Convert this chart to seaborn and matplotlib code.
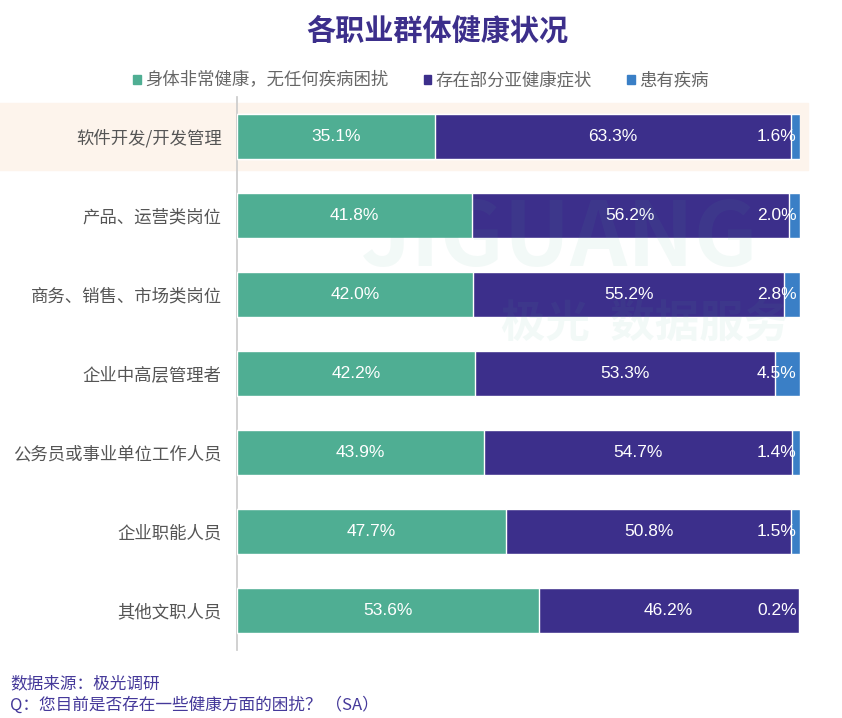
import matplotlib
matplotlib.use("Agg")
import matplotlib.pyplot as plt
import seaborn as sns
import pandas as pd
import numpy as np

# data
groups = ["软件开发/开发管理", "产品、运营类岗位", "商务、销售、市场类岗位", "企业中高层管理者",
          "公务员或事业单位工作人员", "企业职能人员", "其他文职人员"]
healthy = [35.1, 41.8, 42.0, 42.2, 43.9, 47.7, 53.6]
sub_health = [63.3, 56.2, 55.2, 53.3, 54.7, 50.8, 46.2]
ill = [1.6, 2.0, 2.8, 4.5, 1.4, 1.5, 0.2]
series_names = ["身体非常健康，无任何疾病困扰", "存在部分亚健康症状", "患有疾病"]

green = "#4fae93"
purple = "#3c2f8b"
blue = "#3a7fc6"

sns.set_theme(style="white")
plt.rcParams['font.family'] = ['Noto Sans CJK SC', 'DejaVu Sans']

df = pd.DataFrame({"group": groups, "healthy": healthy, "sub": sub_health, "ill": ill})
df["c1"] = df["healthy"]
df["c2"] = df["healthy"] + df["sub"]
df["c3"] = df["c2"] + df["ill"]

fig = plt.figure(figsize=(8.42, 7.18), dpi=100)
ax = fig.add_axes([0.2815, 0.0947, 0.6685, 0.7703])

# watermark
fig.text(0.665, 0.666, "JIGUANG", fontsize=64, fontweight="bold", color="#4fae93", alpha=0.07,
         ha="center", va="center", zorder=0)
fig.text(0.766, 0.549, "极光  数据服务", fontsize=32, fontweight="bold", color="#4fae93", alpha=0.07,
         ha="center", va="center", zorder=0)

# highlight band behind first row
ax.axhspan(-0.42, 0.42, xmin=-0.45, xmax=1.015, color="#fdf4ec", zorder=0, clip_on=False)

sns.barplot(data=df, y="group", x="c3", color=blue, width=0.56, ax=ax, saturation=1, zorder=2)
sns.barplot(data=df, y="group", x="c2", color=purple, width=0.56, ax=ax, saturation=1, zorder=3)
sns.barplot(data=df, y="group", x="c1", color=green, width=0.56, ax=ax, saturation=1, zorder=4)

num_font = dict(color="white", va="center", fontsize=12.5, family="Liberation Sans", zorder=5)
for i, row in df.iterrows():
    ax.text(row["healthy"] / 2, i, f"{row['healthy']:.1f}%", ha="center", **num_font)
    ax.text(row["healthy"] + row["sub"] / 2, i, f"{row['sub']:.1f}%", ha="center", **num_font)
    ax.text(99.4, i, f"{row['ill']:.1f}%", ha="right", **num_font)

ax.set_xlim(0, 100)
ax.set_ylim(6.5, -0.5)
ax.set_xlabel("")
ax.set_ylabel("")
ax.set_xticks([])
ax.tick_params(axis="y", length=0, labelsize=12.5, labelcolor="#555555", pad=11)
ax.set_yticks(np.arange(0.5, 6.5, 1), minor=True)
ax.tick_params(axis="y", which="minor", length=3, color="#cccccc", width=1)
for s in ["top", "right", "bottom"]:
    ax.spines[s].set_visible(False)
ax.spines["left"].set_color("#cccccc")
ax.patch.set_alpha(0)

# title
fig.text(0.52, 0.957, "各职业群体健康状况", fontsize=21, fontweight="bold", color=purple,
         ha="center", va="center")

# legend
handles = [plt.Rectangle((0, 0), 1, 1, color=c) for c in [green, purple, blue]]
fig.legend(handles, series_names, loc="center", bbox_to_anchor=(0.5, 0.888), ncol=3, frameon=False,
           fontsize=12.5, handlelength=0.45, handleheight=0.45, handletextpad=0.25, columnspacing=2.0,
           labelcolor="#666666")

# footer
fig.text(0.012, 0.048, "数据来源：极光调研", fontsize=12, color="#45399a", style="italic", ha="left", va="center")
fig.text(0.012, 0.018, "Q：您目前是否存在一些健康方面的困扰？ （SA）", fontsize=12, color="#45399a",
         style="italic", ha="left", va="center")

fig.savefig("out.png", dpi=100)
